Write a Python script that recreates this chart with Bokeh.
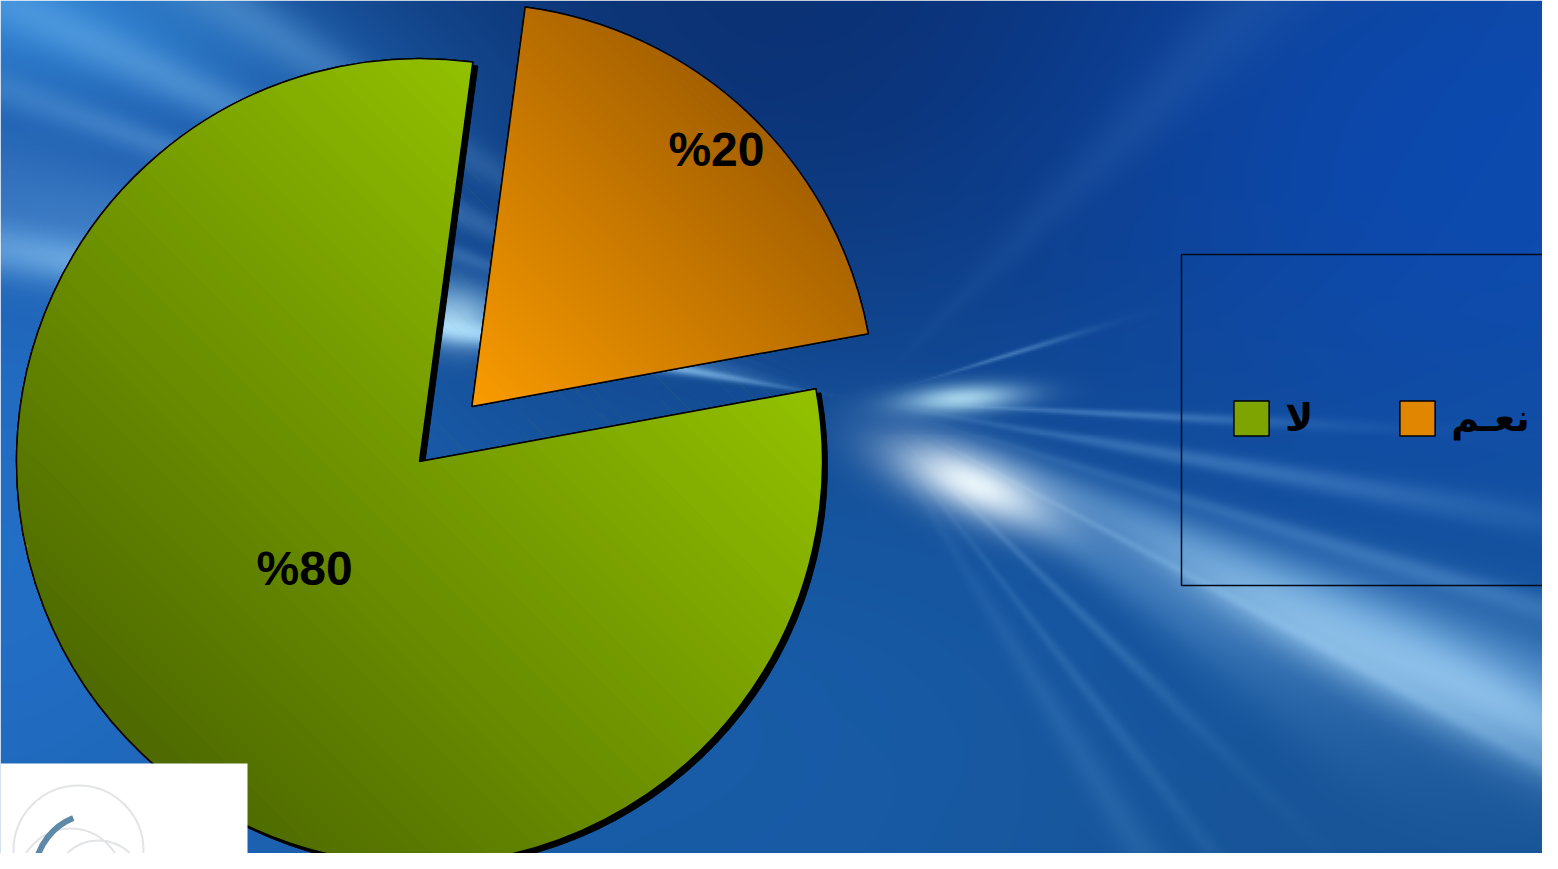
import numpy as np
from bokeh.plotting import figure
from bokeh.models import Range1d, Legend, LegendItem, BoxAnnotation, ColumnDataSource
from bokeh.core.properties import value
from bokeh.embed import file_html
from bokeh.resources import INLINE

# ---------------- data ----------------
categories = ["نعـم", "لا"]
values = [20, 80]
labels = ["%20", "%80"]
legend_order = [1, 0]

# ---------------- style / layout ----------------
light_cols = ["#FA9C00", "#9ACA00"]
dark_cols = ["#A45F00", "#4D6900"]
mid_cols = ["#E08600", "#7DA400"]
PAGE_W, PAGE_H = 1558, 869
CX, CY, R = 419.0, 408.0, 403.0
FIRST_ANGLE = 82.4          # degrees, slices go clockwise
explode = [76.0, 0.0]
label_frac = [0.88, 0.39]
label_turn = [0.0, -3.4]


def hex2rgb(h):
    return np.array([int(h[i:i + 2], 16) for i in (1, 3, 5)], float)


def lerp_hex(a, b, t):
    c = hex2rgb(a) + (hex2rgb(b) - hex2rgb(a)) * t
    return "#%02x%02x%02x" % tuple(int(round(v)) for v in c)


# ---------------- background image ----------------
S = 2
Wg, Hg = PAGE_W // S + 1, PAGE_H // S + 1
gx = (np.arange(Wg) + 0.5) * S
gy = (np.arange(Hg) + 0.5) * S
X, Y = np.meshgrid(gx, gy)
img = np.empty((Hg, Wg, 3))
img[:] = hex2rgb("#1758A2")


def blob(cx, cy, sx, sy, ang=0.0):
    a = np.radians(ang)
    c, s = np.cos(a), np.sin(a)
    u = (X - cx) * c + (Y - cy) * s
    v = -(X - cx) * s + (Y - cy) * c
    return np.exp(-0.5 * ((u / sx) ** 2 + (v / sy) ** 2))


def mix(col, a):
    a = np.clip(a, 0, 1)[..., None]
    img[:] = img + (hex2rgb(col) - img) * a


mix("#0A2D6C", 0.95 * blob(850, 0, 520, 330))
mix("#0B4BBA", 0.75 * blob(1480, 150, 330, 250))
mix("#2778D4", 0.75 * blob(0, 540, 300, 330))
mix("#1E5CB0", 0.6 * blob(60, 160, 200, 90))
mix("#3A96E8", 0.7 * blob(0, 0, 220, 60, 12))
mix("#17508E", 0.55 * blob(1400, 869, 500, 180))
mix("#1A62B0", 0.5 * blob(760, 720, 280, 240))

F = (860.0, 400.0)
dX, dY = X - F[0], Y - F[1]
D = np.hypot(dX, dY)
TH = np.degrees(np.arctan2(dY, dX))
near_fade = 1 - np.exp(-(D / 110.0) ** 2)


def streak(angle, w, strength, dc, ds, col="#9CD6FF"):
    dth = (TH - angle + 180) % 360 - 180
    a = strength * np.exp(-0.5 * (dth / w) ** 2) * np.exp(-0.5 * ((D - dc) / ds) ** 2)
    mix(col, a * near_fade)


for (ang, w, st, dc, ds) in [
    (193, 3.0, 0.3, 500, 400), (190, 1.2, 0.85, 420, 380), (24, 3.5, 0.55, 600, 260),
    (28, 0.5, 0.25, 500, 300), (44, 0.7, 0.18, 280, 160), (52, 0.7, 0.12, 340, 200),
    (-17, 0.6, 0.4, 140, 60), (10, 1.0, 0.25, 350, 250), (205, 1.2, 0.3, 700, 300),
    (212, 1.5, 0.25, 750, 300), (200, 0.8, 0.25, 650, 300), (-45, 3.0, 0.08, 500, 300),
    (34, 3.0, 0.2, 350, 200), (58, 1.4, 0.1, 440, 250), (17, 0.8, 0.22, 600, 300),
    (3, 0.6, 0.3, 250, 150),
]:
    streak(ang, w, st, dc, ds)

mix("#F4FCFF", 0.95 * blob(975, 485, 62, 22, 22))
mix("#C6F2FF", 0.8 * blob(962, 398, 44, 10, -4))
mix("#B8E4FF", 0.55 * blob(1320, 635, 170, 24, 27))
mix("#B0DEFF", 0.45 * blob(1500, 700, 110, 20, 27))
mix("#C8F0FF", 0.6 * blob(455, 318, 30, 20, 10))

rgba = np.empty((Hg, Wg, 4), dtype=np.uint8)
rgba[..., :3] = np.clip(img, 0, 255).astype(np.uint8)
rgba[..., 3] = 255
bg = np.flipud(rgba).copy().view(dtype=np.uint32).reshape(Hg, Wg)

# ---------------- slice geometry from data ----------------
fracs = np.array(values, float) / sum(values)
ends = FIRST_ANGLE - 360 * np.cumsum(fracs)
starts = np.concatenate([[FIRST_ANGLE], ends[:-1]])
mids = (starts + ends) / 2
cxs = CX + np.array(explode) * np.cos(np.radians(mids))
cys = CY + np.array(explode) * np.sin(np.radians(mids))

src = ColumnDataSource(dict(
    x=cxs, y=cys,
    start=np.radians(ends), end=np.radians(starts),
    color=mid_cols, cat=categories,
))


def wedge_pts(cx, cy, r, a0, a1, n=300):
    t = np.radians(np.linspace(a0, a1, n))
    return [(cx, cy)] + list(zip(cx + r * np.cos(t), cy + r * np.sin(t)))


def clip_half(pts, nx, ny, c):
    out = []
    n = len(pts)
    for i in range(n):
        P, Q = pts[i], pts[(i + 1) % n]
        fp = nx * P[0] + ny * P[1] - c
        fq = nx * Q[0] + ny * Q[1] - c
        if fp >= 0:
            out.append(P)
        if (fp >= 0) != (fq >= 0):
            t = fp / (fp - fq)
            out.append((P[0] + t * (Q[0] - P[0]), P[1] + t * (Q[1] - P[1])))
    return out


gd = (np.cos(np.radians(45)), np.sin(np.radians(45)))
band_xs, band_ys, band_cols = [], [], []
NB = 60
for i in range(len(values)):
    pts = wedge_pts(cxs[i], cys[i], R, starts[i], ends[i])
    c0 = gd[0] * cxs[i] + gd[1] * cys[i]
    if i == 0:
        smin, smax, ca, cb = 0.0, R, light_cols[i], dark_cols[i]
    else:
        smin, smax, ca, cb = -R, R, dark_cols[i], light_cols[i]
    ds = (smax - smin) / NB
    for k in range(NB):
        lo = smin + k * ds - (0.0 if k == 0 else 0.8)
        hi = smin + (k + 1) * ds + 0.8
        poly = clip_half(pts, gd[0], gd[1], c0 + lo - (5 if k == 0 else 0))
        poly = clip_half(poly, -gd[0], -gd[1], -(c0 + hi + (5 if k == NB - 1 else 0)))
        if len(poly) < 3:
            continue
        band_xs.append([p[0] for p in poly])
        band_ys.append([p[1] for p in poly])
        band_cols.append(lerp_hex(ca, cb, (k + 0.5) / NB))

# ---------------- figure ----------------
FW, FH = 1542, 853
p = figure(width=FW, height=FH, x_range=Range1d(0, FW), y_range=Range1d(PAGE_H - FH, PAGE_H),
           output_backend="svg", toolbar_location=None, x_axis_type=None, y_axis_type=None,
           min_border=0, min_border_left=0, min_border_right=0, min_border_top=0,
           min_border_bottom=0, outline_line_color=None)
p.grid.visible = False

p.image_rgba(image=[bg], x=0, y=0, dw=PAGE_W, dh=PAGE_H)

# shadow of the large slice
p.wedge(x=cxs[1] + 5, y=cys[1] - 4, radius=R, start_angle=np.radians(ends[1]),
        end_angle=np.radians(starts[1]), fill_color="black", line_color="black")

base = p.wedge(x="x", y="y", radius=R, start_angle="start", end_angle="end",
               fill_color="color", line_color="black", line_width=1.5, source=src)
p.patches(band_xs, band_ys, fill_color=band_cols, line_alpha=0)
p.wedge(x="x", y="y", radius=R, start_angle="start", end_angle="end",
        fill_alpha=0, line_color="black", line_width=1.5, source=src)

la = np.radians(mids + np.array(label_turn))
lx = cxs + np.array(label_frac) * R * np.cos(la)
ly = cys + np.array(label_frac) * R * np.sin(la)
p.text(x=lx, y=ly, text=labels, text_align="center", text_baseline="middle",
       text_font=value("Liberation Sans"), text_font_style="bold",
       text_font_size="48px", text_color="black")

# legend frame
p.add_layout(BoxAnnotation(left=1181, right=1556, bottom=PAGE_H - 585, top=PAGE_H - 254,
                           fill_alpha=0, line_color="#020A1A", line_width=1.5, line_alpha=1))

legend = Legend(
    items=[LegendItem(label=categories[i], renderers=[base], index=i) for i in legend_order],
    location=(1229, 413), orientation="horizontal", padding=0, margin=0, spacing=82,
    label_standoff=12, glyph_width=44, glyph_height=44,
    label_text_font="DejaVu Sans", label_text_font_size="38px",
    label_text_font_style="bold", label_text_color="black",
    background_fill_alpha=0, border_line_alpha=0)
p.add_layout(legend)

# logo box at lower left
p.quad(left=0, right=247, bottom=0, top=PAGE_H - 763, fill_color="white", line_alpha=0)
p.circle(x=[78, 98, 70], y=[PAGE_H - 850, PAGE_H - 885, PAGE_H - 880], radius=[65, 45, 52],
         fill_alpha=0, line_color="#E2E4E6", line_width=2)
p.arc(x=96, y=PAGE_H - 875, radius=62, start_angle=np.radians(112), end_angle=np.radians(172),
      line_color="#5E89A8", line_width=6)
p.arc(x=150, y=PAGE_H - 905, radius=50, start_angle=np.radians(100), end_angle=np.radians(150),
      line_color="#A9BCCB", line_width=3)

open("out.html", "w").write(file_html(p, INLINE))
